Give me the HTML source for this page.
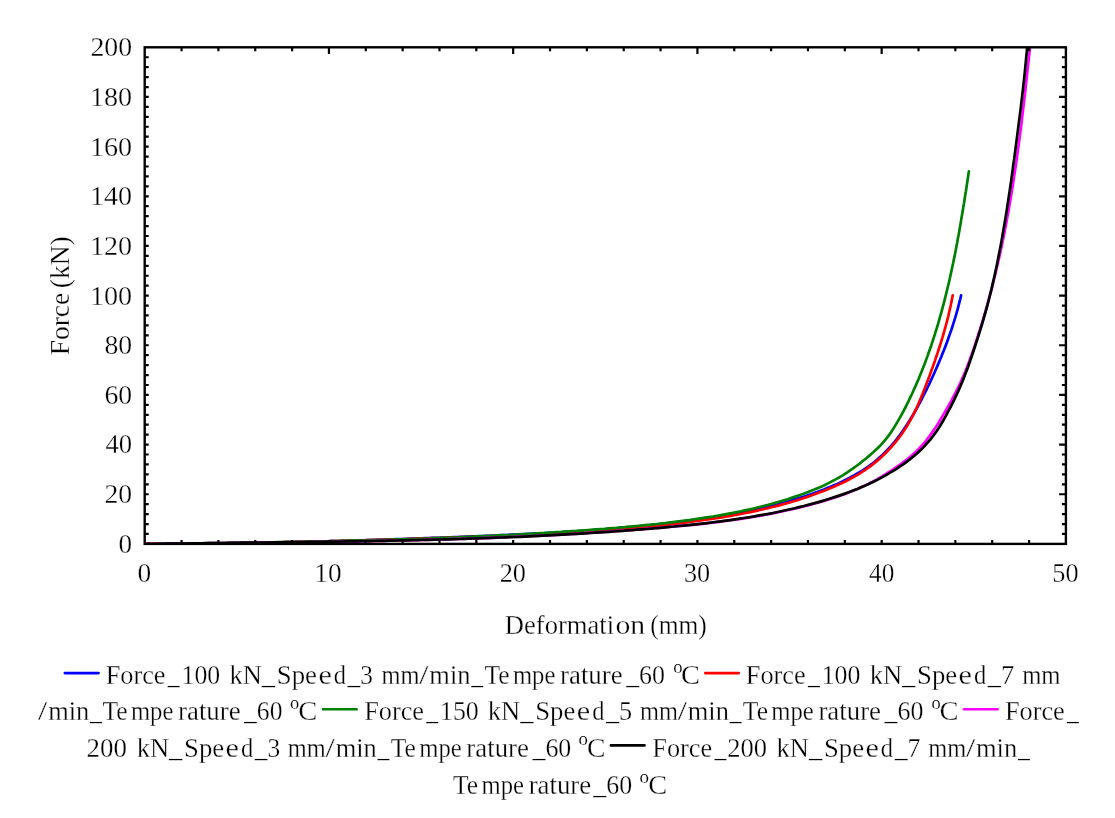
<!DOCTYPE html>
<html lang="en">
<head>
<meta charset="utf-8">
<title>Force - deformation curves</title>
<style>
html,body{margin:0;padding:0;background:#fff;overflow:hidden;}
svg{display:block;will-change:transform;}
text{font-family:"Liberation Serif", "DejaVu Serif", serif;fill:#000;stroke:#fff;stroke-width:0.28px;}
</style>
</head>
<body>
<svg width="1115" height="818" viewBox="0 0 1115 818" role="img" aria-label="Force versus deformation curves">
<rect x="0" y="0" width="1115" height="818" fill="#fff"/>
<defs><clipPath id="plotclip"><rect x="144.7" y="47.3" width="921.20" height="496.60"/></clipPath></defs>
<g clip-path="url(#plotclip)" fill="none" stroke-linejoin="round" stroke-linecap="round" stroke-width="2.7">
<path d="M144.7 543.8L148.3 543.8L151.9 543.8L155.5 543.8L159.1 543.8L162.7 543.8L166.3 543.8L169.9 543.8L173.5 543.8L177.1 543.7L180.7 543.7L184.3 543.7L187.9 543.7L191.5 543.7L195.1 543.6L198.7 543.6L202.3 543.6L205.9 543.5L209.5 543.5L213.1 543.5L216.7 543.4L220.3 543.4L223.9 543.3L227.5 543.3L231.1 543.2L234.7 543.2L238.3 543.1L241.9 543.1L245.5 543.0L249.1 543.0L252.7 542.9L256.3 542.9L259.9 542.8L263.5 542.7L267.1 542.7L270.7 542.6L274.3 542.5L277.9 542.5L281.5 542.4L285.0 542.3L288.6 542.2L292.2 542.2L295.8 542.1L299.4 542.0L303.0 541.9L306.6 541.8L310.2 541.7L313.8 541.6L317.4 541.6L321.0 541.5L324.6 541.4L328.2 541.3L331.8 541.2L335.4 541.1L339.0 541.0L342.6 540.9L346.2 540.8L349.8 540.7L353.4 540.6L357.0 540.5L360.6 540.4L364.2 540.3L367.8 540.1L371.4 540.0L375.0 539.9L378.6 539.8L382.1 539.7L385.7 539.6L389.3 539.5L392.9 539.3L396.5 539.2L400.1 539.1L403.7 539.0L407.3 538.8L410.9 538.7L414.5 538.6L418.1 538.5L421.7 538.3L425.3 538.2L428.9 538.1L432.5 537.9L436.1 537.8L439.7 537.7L443.3 537.5L446.9 537.4L450.5 537.3L454.1 537.1L457.7 537.0L461.3 536.8L464.9 536.7L468.5 536.5L472.1 536.4L475.7 536.3L479.3 536.1L482.9 536.0L486.5 535.8L490.1 535.7L493.6 535.5L497.2 535.4L500.8 535.2L504.4 535.0L508.0 534.9L511.6 534.7L515.2 534.6L518.8 534.4L522.4 534.2L526.0 534.1L529.6 533.9L533.2 533.7L536.8 533.5L540.4 533.3L544.0 533.2L547.6 533.0L551.2 532.8L554.8 532.6L558.4 532.4L562.0 532.2L565.6 531.9L569.2 531.7L572.8 531.5L576.4 531.3L579.9 531.0L583.5 530.8L587.1 530.6L590.7 530.3L594.3 530.1L597.9 529.8L601.5 529.5L605.1 529.3L608.7 529.0L612.2 528.7L615.8 528.4L619.4 528.1L623.0 527.8L626.6 527.5L630.2 527.2L633.7 526.8L637.3 526.5L640.9 526.1L644.5 525.8L648.1 525.4L651.6 525.1L655.2 524.7L658.8 524.3L662.4 523.9L665.9 523.5L669.5 523.1L673.1 522.7L676.7 522.2L680.2 521.8L683.8 521.3L687.4 520.9L690.9 520.4L694.5 519.9L698.1 519.4L701.6 518.9L705.2 518.4L708.7 517.9L712.3 517.3L715.8 516.8L719.4 516.2L722.9 515.6L726.5 515.0L730.0 514.4L733.6 513.8L737.1 513.2L740.7 512.5L744.2 511.8L747.7 511.1L751.2 510.4L754.8 509.6L758.3 508.9L761.8 508.1L765.3 507.3L768.8 506.5L772.3 505.6L775.8 504.7L779.2 503.8L782.7 502.9L786.2 501.9L789.6 501.0L793.1 499.9L796.6 498.9L800.0 497.8L803.4 496.7L806.9 495.6L810.3 494.4L813.7 493.2L817.1 492.0L820.5 490.7L823.9 489.5L827.2 488.1L830.6 486.7L833.9 485.3L837.3 483.9L840.5 482.4L843.8 480.8L847.0 479.2L850.2 477.5L853.4 475.8L856.5 474.0L859.6 472.2L862.7 470.3L865.6 468.3L868.6 466.3L871.5 464.2L874.3 462.0L877.0 459.7L879.7 457.4L882.4 455.0L884.9 452.5L887.4 449.9L889.9 447.3L892.2 444.6L894.6 441.8L896.8 439.0L899.0 436.2L901.1 433.3L903.2 430.3L905.2 427.3L907.2 424.3L909.1 421.3L911.0 418.2L912.9 415.1L914.7 412.0L916.5 408.9L918.2 405.7L919.9 402.6L921.6 399.4L923.2 396.2L924.8 393.0L926.4 389.8L928.0 386.5L929.6 383.3L931.1 380.0L932.6 376.8L934.1 373.5L935.5 370.2L937.0 366.9L938.4 363.6L939.8 360.3L941.2 357.0L942.5 353.6L943.9 350.3L945.2 346.9L946.5 343.6L947.7 340.2L948.9 336.8L950.1 333.4L951.3 330.0L952.4 326.6L953.5 323.2L954.6 319.7L955.6 316.3L956.6 312.8L957.6 309.4L958.5 305.9L959.4 302.4L960.3 298.9L961.1 295.4" stroke="#0000ff"/>
<path d="M144.7 543.9L148.3 543.9L151.9 543.9L155.5 543.8L159.1 543.8L162.7 543.8L166.3 543.8L169.8 543.8L173.4 543.8L177.0 543.7L180.6 543.7L184.2 543.7L187.8 543.7L191.4 543.6L195.0 543.6L198.6 543.6L202.2 543.5L205.8 543.5L209.4 543.4L213.0 543.4L216.5 543.4L220.1 543.3L223.7 543.3L227.3 543.2L230.9 543.2L234.5 543.1L238.1 543.1L241.7 543.0L245.3 543.0L248.9 542.9L252.5 542.8L256.1 542.8L259.6 542.7L263.2 542.7L266.8 542.6L270.4 542.5L274.0 542.5L277.6 542.4L281.2 542.3L284.8 542.2L288.4 542.2L292.0 542.1L295.6 542.0L299.1 541.9L302.7 541.9L306.3 541.8L309.9 541.7L313.5 541.6L317.1 541.5L320.7 541.4L324.3 541.4L327.9 541.3L331.5 541.2L335.1 541.1L338.6 541.0L342.2 540.9L345.8 540.8L349.4 540.7L353.0 540.6L356.6 540.5L360.2 540.4L363.8 540.3L367.4 540.2L371.0 540.1L374.6 540.0L378.1 539.9L381.7 539.8L385.3 539.7L388.9 539.6L392.5 539.5L396.1 539.4L399.7 539.3L403.3 539.1L406.9 539.0L410.5 538.9L414.0 538.8L417.6 538.7L421.2 538.6L424.8 538.5L428.4 538.3L432.0 538.2L435.6 538.1L439.2 538.0L442.8 537.9L446.4 537.7L450.0 537.6L453.5 537.5L457.1 537.4L460.7 537.2L464.3 537.1L467.9 537.0L471.5 536.9L475.1 536.7L478.7 536.6L482.3 536.5L485.9 536.3L489.4 536.2L493.0 536.1L496.6 535.9L500.2 535.8L503.8 535.7L507.4 535.5L511.0 535.4L514.6 535.3L518.2 535.1L521.8 535.0L525.4 534.8L528.9 534.7L532.5 534.5L536.1 534.4L539.7 534.2L543.3 534.0L546.9 533.9L550.5 533.7L554.1 533.5L557.7 533.3L561.2 533.1L564.8 532.9L568.4 532.8L572.0 532.6L575.6 532.3L579.2 532.1L582.8 531.9L586.3 531.7L589.9 531.5L593.5 531.2L597.1 531.0L600.7 530.7L604.3 530.5L607.8 530.2L611.4 530.0L615.0 529.7L618.6 529.4L622.1 529.1L625.7 528.8L629.3 528.5L632.9 528.2L636.5 527.9L640.0 527.6L643.6 527.2L647.2 526.9L650.8 526.5L654.3 526.2L657.9 525.8L661.5 525.4L665.0 525.0L668.6 524.6L672.2 524.2L675.7 523.8L679.3 523.4L682.9 522.9L686.4 522.5L690.0 522.0L693.6 521.5L697.1 521.0L700.7 520.5L704.2 520.0L707.8 519.5L711.4 519.0L714.9 518.4L718.5 517.9L722.0 517.3L725.6 516.7L729.1 516.1L732.7 515.5L736.2 514.8L739.7 514.2L743.3 513.5L746.8 512.8L750.3 512.1L753.8 511.4L757.3 510.6L760.8 509.8L764.3 509.0L767.8 508.2L771.3 507.3L774.8 506.5L778.3 505.6L781.8 504.6L785.2 503.7L788.7 502.7L792.1 501.7L795.6 500.7L799.0 499.6L802.4 498.5L805.8 497.4L809.2 496.2L812.6 495.0L816.0 493.8L819.4 492.6L822.7 491.3L826.1 490.0L829.4 488.6L832.7 487.2L836.0 485.8L839.3 484.3L842.6 482.7L845.8 481.2L849.0 479.5L852.1 477.8L855.3 476.1L858.3 474.3L861.4 472.4L864.4 470.4L867.3 468.4L870.2 466.3L873.0 464.2L875.8 461.9L878.6 459.6L881.2 457.2L883.8 454.7L886.4 452.2L888.9 449.6L891.3 447.0L893.7 444.2L896.0 441.5L898.2 438.7L900.4 435.8L902.4 432.9L904.4 430.0L906.4 427.0L908.2 423.9L910.0 420.8L911.7 417.7L913.4 414.5L914.9 411.3L916.5 408.1L918.0 404.8L919.4 401.5L920.8 398.2L922.2 394.9L923.5 391.5L924.8 388.2L926.1 384.8L927.4 381.4L928.7 378.1L929.9 374.7L931.1 371.3L932.4 367.9L933.6 364.5L934.8 361.1L935.9 357.7L937.1 354.3L938.2 350.9L939.3 347.5L940.4 344.1L941.5 340.7L942.5 337.3L943.5 333.8L944.5 330.4L945.5 326.9L946.4 323.5L947.3 320.0L948.2 316.5L949.0 313.0L949.8 309.5L950.6 306.0L951.3 302.5L952.0 299.0L952.7 295.4" stroke="#ff0000"/>
<path d="M144.7 544.1L148.8 544.0L152.8 544.0L156.8 543.9L160.9 543.8L164.9 543.8L168.9 543.7L173.0 543.7L177.0 543.6L181.0 543.6L185.1 543.5L189.1 543.5L193.1 543.4L197.2 543.4L201.2 543.3L205.3 543.3L209.3 543.2L213.3 543.1L217.4 543.1L221.4 543.0L225.4 543.0L229.5 542.9L233.5 542.9L237.6 542.8L241.6 542.7L245.6 542.7L249.7 542.6L253.7 542.6L257.7 542.5L261.8 542.4L265.8 542.4L269.9 542.3L273.9 542.3L277.9 542.2L282.0 542.1L286.0 542.1L290.0 542.0L294.1 541.9L298.1 541.8L302.2 541.8L306.2 541.7L310.2 541.6L314.3 541.5L318.3 541.5L322.3 541.4L326.4 541.3L330.4 541.2L334.5 541.1L338.5 541.0L342.5 540.9L346.6 540.8L350.6 540.7L354.7 540.7L358.7 540.6L362.7 540.5L366.8 540.4L370.8 540.2L374.8 540.1L378.9 540.0L382.9 539.9L387.0 539.8L391.0 539.7L395.0 539.6L399.1 539.4L403.1 539.3L407.1 539.2L411.2 539.1L415.2 538.9L419.2 538.8L423.3 538.7L427.3 538.5L431.4 538.4L435.4 538.2L439.4 538.1L443.5 537.9L447.5 537.8L451.5 537.6L455.6 537.5L459.6 537.3L463.6 537.1L467.7 536.9L471.7 536.8L475.7 536.6L479.8 536.4L483.8 536.2L487.8 536.0L491.9 535.8L495.9 535.6L499.9 535.4L504.0 535.2L508.0 535.0L512.0 534.8L516.1 534.6L520.1 534.4L524.1 534.2L528.2 533.9L532.2 533.7L536.2 533.5L540.2 533.2L544.3 533.0L548.3 532.7L552.3 532.5L556.4 532.2L560.4 532.0L564.4 531.7L568.5 531.4L572.5 531.1L576.5 530.9L580.5 530.6L584.6 530.3L588.6 530.0L592.6 529.7L596.6 529.4L600.7 529.1L604.7 528.8L608.7 528.4L612.7 528.1L616.8 527.8L620.8 527.4L624.8 527.1L628.8 526.7L632.8 526.4L636.9 526.0L640.9 525.6L644.9 525.2L648.9 524.8L652.9 524.4L657.0 524.0L661.0 523.5L665.0 523.1L669.0 522.6L673.0 522.1L677.0 521.6L681.0 521.1L685.0 520.6L689.0 520.1L693.0 519.5L697.0 518.9L701.0 518.3L705.0 517.7L709.0 517.1L713.0 516.5L717.0 515.8L720.9 515.1L724.9 514.4L728.9 513.6L732.9 512.9L736.8 512.1L740.8 511.3L744.7 510.4L748.7 509.6L752.6 508.7L756.5 507.8L760.5 506.8L764.4 505.8L768.3 504.8L772.2 503.7L776.1 502.6L780.0 501.5L783.8 500.4L787.7 499.2L791.5 497.9L795.4 496.6L799.2 495.3L803.0 494.0L806.8 492.6L810.6 491.1L814.3 489.6L818.0 488.0L821.7 486.4L825.4 484.7L829.0 482.9L832.6 481.0L836.1 479.1L839.6 477.2L843.1 475.1L846.5 472.9L849.8 470.7L853.1 468.4L856.4 466.0L859.6 463.6L862.8 461.0L866.0 458.5L869.1 455.9L872.1 453.3L875.1 450.6L878.1 447.8L880.9 444.9L883.6 441.9L886.1 438.9L888.6 435.7L890.9 432.4L893.1 429.1L895.2 425.6L897.3 422.2L899.3 418.7L901.3 415.1L903.2 411.6L905.1 408.0L906.9 404.4L908.7 400.8L910.4 397.1L912.2 393.5L913.8 389.8L915.5 386.1L917.1 382.4L918.7 378.7L920.2 374.9L921.7 371.2L923.2 367.4L924.7 363.7L926.1 359.9L927.5 356.1L928.8 352.3L930.2 348.5L931.5 344.7L932.7 340.9L934.0 337.0L935.2 333.2L936.4 329.3L937.6 325.5L938.7 321.6L939.8 317.7L940.9 313.8L942.0 309.9L943.0 306.1L944.1 302.1L945.1 298.2L946.0 294.3L947.0 290.4L947.9 286.5L948.9 282.5L949.8 278.6L950.6 274.7L951.5 270.7L952.3 266.8L953.2 262.8L954.0 258.8L954.8 254.9L955.6 250.9L956.3 246.9L957.1 243.0L957.8 239.0L958.6 235.0L959.3 231.0L960.0 227.1L960.7 223.1L961.3 219.1L962.0 215.1L962.7 211.1L963.3 207.1L964.0 203.2L964.6 199.2L965.2 195.2L965.9 191.2L966.5 187.2L967.1 183.2L967.7 179.2L968.3 175.3L968.9 171.3" stroke="#008000"/>
<path d="M144.7 544.1L149.4 544.0L154.1 544.0L158.8 543.9L163.4 543.8L168.1 543.8L172.8 543.7L177.5 543.6L182.2 543.6L186.9 543.5L191.6 543.5L196.3 543.4L200.9 543.3L205.6 543.3L210.3 543.2L215.0 543.2L219.7 543.1L224.4 543.1L229.1 543.0L233.7 543.0L238.4 542.9L243.1 542.9L247.8 542.8L252.5 542.7L257.2 542.7L261.9 542.6L266.6 542.6L271.2 542.5L275.9 542.5L280.6 542.4L285.3 542.4L290.0 542.3L294.7 542.2L299.4 542.2L304.0 542.1L308.7 542.1L313.4 542.0L318.1 541.9L322.8 541.9L327.5 541.8L332.2 541.7L336.8 541.6L341.5 541.6L346.2 541.5L350.9 541.4L355.6 541.3L360.3 541.3L364.9 541.2L369.6 541.1L374.3 541.0L379.0 540.9L383.7 540.8L388.4 540.7L393.1 540.6L397.7 540.5L402.4 540.4L407.1 540.3L411.8 540.2L416.5 540.1L421.2 540.0L425.8 539.8L430.5 539.7L435.2 539.6L439.9 539.5L444.6 539.3L449.3 539.2L453.9 539.1L458.6 538.9L463.3 538.8L468.0 538.6L472.7 538.4L477.3 538.3L482.0 538.1L486.7 537.9L491.4 537.8L496.1 537.6L500.8 537.4L505.4 537.2L510.1 537.0L514.8 536.8L519.5 536.6L524.2 536.4L528.8 536.2L533.5 536.0L538.2 535.8L542.9 535.5L547.6 535.3L552.2 535.1L556.9 534.8L561.6 534.6L566.3 534.3L571.0 534.0L575.6 533.8L580.3 533.5L585.0 533.2L589.7 532.9L594.4 532.6L599.0 532.3L603.7 532.0L608.4 531.7L613.1 531.4L617.7 531.0L622.4 530.7L627.1 530.4L631.8 530.0L636.5 529.7L641.1 529.3L645.8 528.9L650.5 528.6L655.2 528.2L659.8 527.8L664.5 527.4L669.2 527.0L673.9 526.5L678.5 526.1L683.2 525.7L687.9 525.2L692.6 524.8L697.2 524.3L701.9 523.8L706.5 523.3L711.2 522.7L715.9 522.2L720.5 521.6L725.2 521.0L729.8 520.4L734.4 519.7L739.1 519.1L743.7 518.4L748.3 517.7L753.0 516.9L757.6 516.1L762.2 515.3L766.8 514.5L771.4 513.6L776.0 512.7L780.6 511.8L785.1 510.8L789.7 509.8L794.3 508.8L798.8 507.7L803.3 506.5L807.9 505.4L812.4 504.2L816.9 502.9L821.4 501.6L825.9 500.3L830.4 498.9L834.9 497.5L839.3 495.9L843.7 494.4L848.1 492.7L852.5 491.0L856.8 489.2L861.1 487.3L865.4 485.4L869.6 483.3L873.7 481.1L877.8 478.9L881.9 476.5L885.9 474.0L889.9 471.5L893.8 468.9L897.7 466.2L901.5 463.5L905.3 460.7L909.0 457.7L912.6 454.7L916.0 451.6L919.3 448.3L922.5 444.9L925.5 441.3L928.4 437.7L931.1 433.9L933.8 430.1L936.4 426.2L938.9 422.2L941.3 418.2L943.7 414.1L946.1 410.0L948.4 405.9L950.7 401.8L952.9 397.7L955.1 393.5L957.2 389.4L959.3 385.2L961.2 380.9L963.1 376.6L965.0 372.3L966.7 368.0L968.4 363.6L970.0 359.2L971.6 354.8L973.1 350.4L974.7 345.9L976.1 341.5L977.6 337.0L979.0 332.6L980.4 328.1L981.8 323.6L983.2 319.2L984.5 314.7L985.8 310.2L987.1 305.7L988.3 301.1L989.6 296.6L990.8 292.1L992.0 287.6L993.1 283.0L994.2 278.5L995.4 273.9L996.4 269.4L997.5 264.8L998.6 260.2L999.6 255.6L1000.6 251.1L1001.6 246.5L1002.5 241.9L1003.5 237.3L1004.4 232.7L1005.3 228.1L1006.2 223.5L1007.0 218.9L1007.9 214.3L1008.7 209.7L1009.5 205.1L1010.3 200.5L1011.1 195.8L1011.8 191.2L1012.6 186.6L1013.3 182.0L1014.0 177.3L1014.7 172.7L1015.4 168.1L1016.1 163.4L1016.8 158.8L1017.4 154.1L1018.0 149.5L1018.7 144.9L1019.3 140.2L1019.9 135.6L1020.5 130.9L1021.1 126.3L1021.7 121.6L1022.2 117.0L1022.8 112.3L1023.3 107.7L1023.9 103.0L1024.4 98.3L1025.0 93.7L1025.5 89.0L1026.0 84.4L1026.5 79.7L1027.0 75.1L1027.5 70.4L1028.0 65.7L1028.5 61.1L1029.0 56.4L1029.5 51.8L1030.0 47.1" stroke="#ff00ff"/>
<path d="M144.7 544.1L149.4 544.1L154.1 544.0L158.8 543.9L163.5 543.8L168.1 543.7L172.8 543.7L177.5 543.6L182.2 543.5L186.9 543.5L191.6 543.4L196.3 543.3L201.0 543.3L205.7 543.2L210.4 543.1L215.0 543.1L219.7 543.0L224.4 543.0L229.1 542.9L233.8 542.8L238.5 542.8L243.2 542.7L247.9 542.7L252.6 542.6L257.3 542.6L261.9 542.5L266.6 542.5L271.3 542.4L276.0 542.3L280.7 542.3L285.4 542.2L290.1 542.2L294.8 542.1L299.5 542.1L304.2 542.0L308.8 541.9L313.5 541.9L318.2 541.8L322.9 541.8L327.6 541.7L332.3 541.6L337.0 541.6L341.7 541.5L346.4 541.4L351.0 541.4L355.7 541.3L360.4 541.2L365.1 541.1L369.8 541.1L374.5 541.0L379.2 540.9L383.9 540.8L388.6 540.7L393.2 540.6L397.9 540.5L402.6 540.4L407.3 540.3L412.0 540.2L416.7 540.1L421.4 540.0L426.1 539.9L430.7 539.8L435.4 539.6L440.1 539.5L444.8 539.4L449.5 539.3L454.2 539.1L458.9 539.0L463.6 538.8L468.2 538.7L472.9 538.5L477.6 538.4L482.3 538.2L487.0 538.1L491.7 537.9L496.4 537.7L501.0 537.5L505.7 537.3L510.4 537.2L515.1 537.0L519.8 536.8L524.5 536.6L529.2 536.3L533.8 536.1L538.5 535.9L543.2 535.7L547.9 535.4L552.6 535.2L557.3 534.9L561.9 534.7L566.6 534.4L571.3 534.2L576.0 533.9L580.7 533.6L585.3 533.3L590.0 533.0L594.7 532.7L599.4 532.4L604.1 532.1L608.8 531.8L613.4 531.5L618.1 531.1L622.8 530.8L627.5 530.4L632.1 530.1L636.8 529.7L641.5 529.3L646.2 529.0L650.9 528.6L655.5 528.2L660.2 527.8L664.9 527.3L669.6 526.9L674.3 526.5L678.9 526.0L683.6 525.6L688.3 525.1L692.9 524.6L697.6 524.1L702.3 523.6L706.9 523.1L711.6 522.5L716.3 521.9L720.9 521.3L725.6 520.7L730.2 520.1L734.8 519.4L739.5 518.7L744.1 518.0L748.7 517.3L753.4 516.5L758.0 515.7L762.6 514.9L767.2 514.1L771.8 513.2L776.4 512.3L781.0 511.3L785.5 510.3L790.1 509.3L794.7 508.2L799.2 507.1L803.8 506.0L808.3 504.8L812.8 503.6L817.4 502.4L821.9 501.1L826.4 499.7L830.9 498.3L835.3 496.9L839.8 495.4L844.2 493.9L848.6 492.3L853.0 490.6L857.4 488.9L861.7 487.0L866.0 485.2L870.3 483.2L874.5 481.2L878.7 479.1L882.8 476.9L886.9 474.6L891.0 472.2L895.0 469.8L898.9 467.2L902.8 464.6L906.6 461.8L910.4 458.9L914.0 456.0L917.5 452.9L921.0 449.7L924.3 446.4L927.4 442.9L930.5 439.4L933.3 435.7L936.1 431.9L938.7 428.0L941.2 424.0L943.6 420.0L945.9 415.9L948.1 411.7L950.3 407.6L952.4 403.4L954.5 399.1L956.5 394.9L958.5 390.6L960.4 386.3L962.2 382.0L963.9 377.7L965.6 373.3L967.3 368.9L968.9 364.5L970.4 360.1L971.9 355.7L973.4 351.2L974.9 346.8L976.3 342.3L977.8 337.9L979.2 333.4L980.6 328.9L982.0 324.4L983.3 319.9L984.6 315.4L985.9 310.9L987.1 306.4L988.3 301.8L989.4 297.3L990.6 292.7L991.7 288.2L992.7 283.6L993.8 279.0L994.8 274.5L995.8 269.9L996.8 265.3L997.7 260.7L998.6 256.1L999.5 251.5L1000.4 246.9L1001.3 242.3L1002.1 237.7L1002.9 233.0L1003.7 228.4L1004.5 223.8L1005.3 219.2L1006.0 214.6L1006.8 209.9L1007.5 205.3L1008.2 200.7L1008.9 196.0L1009.6 191.4L1010.3 186.7L1011.0 182.1L1011.6 177.5L1012.3 172.8L1012.9 168.2L1013.5 163.5L1014.2 158.9L1014.8 154.2L1015.4 149.6L1016.0 144.9L1016.6 140.3L1017.2 135.6L1017.8 131.0L1018.4 126.3L1019.0 121.7L1019.6 117.0L1020.2 112.4L1020.8 107.7L1021.3 103.1L1021.9 98.4L1022.4 93.8L1023.0 89.1L1023.5 84.4L1024.0 79.8L1024.5 75.1L1025.0 70.5L1025.4 65.8L1025.9 61.1L1026.3 56.4L1026.8 51.8L1027.2 47.1" stroke="#000000"/>
</g>
<path d="M181.55 543.9V539.90M181.55 47.3V51.30M218.40 543.9V539.90M218.40 47.3V51.30M255.24 543.9V539.90M255.24 47.3V51.30M292.09 543.9V539.90M292.09 47.3V51.30M328.94 543.9V539.90M328.94 47.3V54.10M365.79 543.9V539.90M365.79 47.3V51.30M402.64 543.9V539.90M402.64 47.3V51.30M439.48 543.9V539.90M439.48 47.3V51.30M476.33 543.9V539.90M476.33 47.3V51.30M513.18 543.9V539.90M513.18 47.3V54.10M550.03 543.9V539.90M550.03 47.3V51.30M586.88 543.9V539.90M586.88 47.3V51.30M623.72 543.9V539.90M623.72 47.3V51.30M660.57 543.9V539.90M660.57 47.3V51.30M697.42 543.9V539.90M697.42 47.3V54.10M734.27 543.9V539.90M734.27 47.3V51.30M771.12 543.9V539.90M771.12 47.3V51.30M807.96 543.9V539.90M807.96 47.3V51.30M844.81 543.9V539.90M844.81 47.3V51.30M881.66 543.9V539.90M881.66 47.3V54.10M918.51 543.9V539.90M918.51 47.3V51.30M955.36 543.9V539.90M955.36 47.3V51.30M992.20 543.9V539.90M992.20 47.3V51.30M1029.05 543.9V539.90M1029.05 47.3V51.30M144.7 533.97H148.70M1065.9 533.97H1061.90M144.7 524.04H148.70M1065.9 524.04H1061.90M144.7 514.10H148.70M1065.9 514.10H1061.90M144.7 504.17H148.70M1065.9 504.17H1061.90M144.7 494.24H148.70M1065.9 494.24H1059.10M144.7 484.31H148.70M1065.9 484.31H1061.90M144.7 474.38H148.70M1065.9 474.38H1061.90M144.7 464.44H148.70M1065.9 464.44H1061.90M144.7 454.51H148.70M1065.9 454.51H1061.90M144.7 444.58H148.70M1065.9 444.58H1059.10M144.7 434.65H148.70M1065.9 434.65H1061.90M144.7 424.72H148.70M1065.9 424.72H1061.90M144.7 414.78H148.70M1065.9 414.78H1061.90M144.7 404.85H148.70M1065.9 404.85H1061.90M144.7 394.92H148.70M1065.9 394.92H1059.10M144.7 384.99H148.70M1065.9 384.99H1061.90M144.7 375.06H148.70M1065.9 375.06H1061.90M144.7 365.12H148.70M1065.9 365.12H1061.90M144.7 355.19H148.70M1065.9 355.19H1061.90M144.7 345.26H148.70M1065.9 345.26H1059.10M144.7 335.33H148.70M1065.9 335.33H1061.90M144.7 325.40H148.70M1065.9 325.40H1061.90M144.7 315.46H148.70M1065.9 315.46H1061.90M144.7 305.53H148.70M1065.9 305.53H1061.90M144.7 295.60H148.70M1065.9 295.60H1059.10M144.7 285.67H148.70M1065.9 285.67H1061.90M144.7 275.74H148.70M1065.9 275.74H1061.90M144.7 265.80H148.70M1065.9 265.80H1061.90M144.7 255.87H148.70M1065.9 255.87H1061.90M144.7 245.94H148.70M1065.9 245.94H1059.10M144.7 236.01H148.70M1065.9 236.01H1061.90M144.7 226.08H148.70M1065.9 226.08H1061.90M144.7 216.14H148.70M1065.9 216.14H1061.90M144.7 206.21H148.70M1065.9 206.21H1061.90M144.7 196.28H148.70M1065.9 196.28H1059.10M144.7 186.35H148.70M1065.9 186.35H1061.90M144.7 176.42H148.70M1065.9 176.42H1061.90M144.7 166.48H148.70M1065.9 166.48H1061.90M144.7 156.55H148.70M1065.9 156.55H1061.90M144.7 146.62H148.70M1065.9 146.62H1059.10M144.7 136.69H148.70M1065.9 136.69H1061.90M144.7 126.76H148.70M1065.9 126.76H1061.90M144.7 116.82H148.70M1065.9 116.82H1061.90M144.7 106.89H148.70M1065.9 106.89H1061.90M144.7 96.96H148.70M1065.9 96.96H1059.10M144.7 87.03H148.70M1065.9 87.03H1061.90M144.7 77.10H148.70M1065.9 77.10H1061.90M144.7 67.16H148.70M1065.9 67.16H1061.90M144.7 57.23H148.70M1065.9 57.23H1061.90" fill="none" stroke="#000" stroke-width="2.2" stroke-linecap="butt"/>
<rect x="144.7" y="47.3" width="921.20" height="496.60" fill="none" stroke="#000" stroke-width="2.4" stroke-linejoin="miter"/>
<line x1="64.80" y1="673.10" x2="98.60" y2="673.10" stroke="#0000ff" stroke-width="2.6" stroke-linecap="round"/>
<line x1="705.30" y1="673.10" x2="738.80" y2="673.10" stroke="#ff0000" stroke-width="2.6" stroke-linecap="round"/>
<line x1="323.10" y1="709.20" x2="356.60" y2="709.20" stroke="#008000" stroke-width="2.6" stroke-linecap="round"/>
<line x1="964.00" y1="709.20" x2="997.60" y2="709.20" stroke="#ff00ff" stroke-width="2.6" stroke-linecap="round"/>
<line x1="610.90" y1="745.40" x2="644.50" y2="745.40" stroke="#000000" stroke-width="2.6" stroke-linecap="round"/>
<g style="filter:grayscale(1)">
<text><tspan x="105.70" y="684.10" font-size="26.5" textLength="59.86" lengthAdjust="spacingAndGlyphs">Force</tspan><tspan x="167.79" y="684.10" font-size="26.5" textLength="11.84" lengthAdjust="spacingAndGlyphs">_</tspan><tspan x="181.55" y="684.10" font-size="26.5" textLength="38.69" lengthAdjust="spacingAndGlyphs">100</tspan><tspan> </tspan><tspan x="229.45" y="684.10" font-size="26.5" textLength="45.65" lengthAdjust="spacingAndGlyphs">kN_</tspan><tspan x="276.84" y="684.10" font-size="26.5" textLength="40.08" lengthAdjust="spacingAndGlyphs">Spe</tspan><tspan x="318.41" y="684.10" font-size="26.5" textLength="13.41" lengthAdjust="spacingAndGlyphs">e</tspan><tspan x="333.75" y="684.10" font-size="26.5" textLength="12.23" lengthAdjust="spacingAndGlyphs">d</tspan><tspan x="347.51" y="684.10" font-size="26.5" textLength="25.38" lengthAdjust="spacingAndGlyphs">_3</tspan><tspan> </tspan><tspan x="381.55" y="684.10" font-size="26.5" textLength="37.94" lengthAdjust="spacingAndGlyphs">mm</tspan><tspan x="419.25" y="684.10" font-size="26.5" textLength="9.20" lengthAdjust="spacingAndGlyphs">/</tspan><tspan x="429.35" y="684.10" font-size="26.5" textLength="41.15" lengthAdjust="spacingAndGlyphs">min</tspan><tspan x="471.24" y="684.10" font-size="26.5" textLength="11.84" lengthAdjust="spacingAndGlyphs">_</tspan><tspan x="484.45" y="684.10" font-size="26.5" textLength="25.13" lengthAdjust="spacingAndGlyphs">Te</tspan><tspan x="512.95" y="684.10" font-size="26.5" textLength="42.41" lengthAdjust="spacingAndGlyphs">mpe</tspan><tspan x="560.05" y="684.10" font-size="26.5" textLength="62.57" lengthAdjust="spacingAndGlyphs">rature</tspan><tspan x="626.13" y="684.10" font-size="26.5" textLength="38.87" lengthAdjust="spacingAndGlyphs">_60</tspan><tspan> </tspan><tspan x="673.15" y="672.80" font-size="18.2" style="stroke-width:0.12px" textLength="9.30" lengthAdjust="spacingAndGlyphs">o</tspan><tspan x="681.08" y="684.10" font-size="26.5" textLength="18.89" lengthAdjust="spacingAndGlyphs">C</tspan><tspan> </tspan><tspan x="745.85" y="684.10" font-size="26.5" textLength="59.86" lengthAdjust="spacingAndGlyphs">Force</tspan><tspan x="807.94" y="684.10" font-size="26.5" textLength="11.84" lengthAdjust="spacingAndGlyphs">_</tspan><tspan x="821.70" y="684.10" font-size="26.5" textLength="38.69" lengthAdjust="spacingAndGlyphs">100</tspan><tspan> </tspan><tspan x="869.65" y="684.10" font-size="26.5" textLength="45.65" lengthAdjust="spacingAndGlyphs">kN_</tspan><tspan x="917.04" y="684.10" font-size="26.5" textLength="40.08" lengthAdjust="spacingAndGlyphs">Spe</tspan><tspan x="958.61" y="684.10" font-size="26.5" textLength="13.41" lengthAdjust="spacingAndGlyphs">e</tspan><tspan x="973.95" y="684.10" font-size="26.5" textLength="12.23" lengthAdjust="spacingAndGlyphs">d</tspan><tspan x="987.75" y="684.10" font-size="26.5" textLength="26.55" lengthAdjust="spacingAndGlyphs">_7</tspan><tspan> </tspan><tspan x="1022.25" y="684.10" font-size="26.5" textLength="38.24" lengthAdjust="spacingAndGlyphs">mm</tspan></text>
<text><tspan x="38.05" y="720.40" font-size="26.5" textLength="9.20" lengthAdjust="spacingAndGlyphs">/</tspan><tspan x="48.15" y="720.40" font-size="26.5" textLength="41.15" lengthAdjust="spacingAndGlyphs">min</tspan><tspan x="90.04" y="720.40" font-size="26.5" textLength="11.84" lengthAdjust="spacingAndGlyphs">_</tspan><tspan x="102.45" y="720.40" font-size="26.5" textLength="25.13" lengthAdjust="spacingAndGlyphs">Te</tspan><tspan x="130.95" y="720.40" font-size="26.5" textLength="42.41" lengthAdjust="spacingAndGlyphs">mpe</tspan><tspan x="178.05" y="720.40" font-size="26.5" textLength="62.57" lengthAdjust="spacingAndGlyphs">rature</tspan><tspan x="244.11" y="720.40" font-size="26.5" textLength="38.28" lengthAdjust="spacingAndGlyphs">_60</tspan><tspan> </tspan><tspan x="289.95" y="709.10" font-size="18.2" style="stroke-width:0.12px" textLength="9.19" lengthAdjust="spacingAndGlyphs">o</tspan><tspan x="298.38" y="720.40" font-size="26.5" textLength="19.00" lengthAdjust="spacingAndGlyphs">C</tspan><tspan> </tspan><tspan x="364.15" y="720.40" font-size="26.5" textLength="59.86" lengthAdjust="spacingAndGlyphs">Force</tspan><tspan x="426.24" y="720.40" font-size="26.5" textLength="11.84" lengthAdjust="spacingAndGlyphs">_</tspan><tspan x="440.00" y="720.40" font-size="26.5" textLength="38.69" lengthAdjust="spacingAndGlyphs">150</tspan><tspan> </tspan><tspan x="487.85" y="720.40" font-size="26.5" textLength="45.65" lengthAdjust="spacingAndGlyphs">kN_</tspan><tspan x="535.24" y="720.40" font-size="26.5" textLength="40.08" lengthAdjust="spacingAndGlyphs">Spe</tspan><tspan x="576.81" y="720.40" font-size="26.5" textLength="13.41" lengthAdjust="spacingAndGlyphs">e</tspan><tspan x="592.15" y="720.40" font-size="26.5" textLength="12.23" lengthAdjust="spacingAndGlyphs">d</tspan><tspan x="605.94" y="720.40" font-size="26.5" textLength="26.26" lengthAdjust="spacingAndGlyphs">_5</tspan><tspan> </tspan><tspan x="639.95" y="720.40" font-size="26.5" textLength="37.94" lengthAdjust="spacingAndGlyphs">mm</tspan><tspan x="677.65" y="720.40" font-size="26.5" textLength="9.20" lengthAdjust="spacingAndGlyphs">/</tspan><tspan x="687.75" y="720.40" font-size="26.5" textLength="41.15" lengthAdjust="spacingAndGlyphs">min</tspan><tspan x="729.64" y="720.40" font-size="26.5" textLength="11.84" lengthAdjust="spacingAndGlyphs">_</tspan><tspan x="742.85" y="720.40" font-size="26.5" textLength="25.13" lengthAdjust="spacingAndGlyphs">Te</tspan><tspan x="771.35" y="720.40" font-size="26.5" textLength="42.41" lengthAdjust="spacingAndGlyphs">mpe</tspan><tspan x="818.45" y="720.40" font-size="26.5" textLength="62.57" lengthAdjust="spacingAndGlyphs">rature</tspan><tspan x="884.53" y="720.40" font-size="26.5" textLength="38.87" lengthAdjust="spacingAndGlyphs">_60</tspan><tspan> </tspan><tspan x="931.55" y="709.10" font-size="18.2" style="stroke-width:0.12px" textLength="9.19" lengthAdjust="spacingAndGlyphs">o</tspan><tspan x="939.57" y="720.40" font-size="26.5" textLength="19.00" lengthAdjust="spacingAndGlyphs">C</tspan><tspan> </tspan><tspan x="1004.95" y="720.40" font-size="26.5" textLength="59.86" lengthAdjust="spacingAndGlyphs">Force</tspan><tspan x="1067.04" y="720.40" font-size="26.5" textLength="11.84" lengthAdjust="spacingAndGlyphs">_</tspan></text>
<text><tspan x="86.63" y="756.60" font-size="26.5" textLength="40.37" lengthAdjust="spacingAndGlyphs">200</tspan><tspan> </tspan><tspan x="136.65" y="756.60" font-size="26.5" textLength="45.65" lengthAdjust="spacingAndGlyphs">kN_</tspan><tspan x="184.04" y="756.60" font-size="26.5" textLength="40.08" lengthAdjust="spacingAndGlyphs">Spe</tspan><tspan x="225.61" y="756.60" font-size="26.5" textLength="13.41" lengthAdjust="spacingAndGlyphs">e</tspan><tspan x="240.95" y="756.60" font-size="26.5" textLength="12.23" lengthAdjust="spacingAndGlyphs">d</tspan><tspan x="254.71" y="756.60" font-size="26.5" textLength="25.38" lengthAdjust="spacingAndGlyphs">_3</tspan><tspan> </tspan><tspan x="287.85" y="756.60" font-size="26.5" textLength="37.94" lengthAdjust="spacingAndGlyphs">mm</tspan><tspan x="325.55" y="756.60" font-size="26.5" textLength="9.20" lengthAdjust="spacingAndGlyphs">/</tspan><tspan x="335.65" y="756.60" font-size="26.5" textLength="41.15" lengthAdjust="spacingAndGlyphs">min</tspan><tspan x="377.54" y="756.60" font-size="26.5" textLength="11.84" lengthAdjust="spacingAndGlyphs">_</tspan><tspan x="390.75" y="756.60" font-size="26.5" textLength="25.13" lengthAdjust="spacingAndGlyphs">Te</tspan><tspan x="419.25" y="756.60" font-size="26.5" textLength="42.41" lengthAdjust="spacingAndGlyphs">mpe</tspan><tspan x="466.35" y="756.60" font-size="26.5" textLength="62.57" lengthAdjust="spacingAndGlyphs">rature</tspan><tspan x="532.43" y="756.60" font-size="26.5" textLength="38.87" lengthAdjust="spacingAndGlyphs">_60</tspan><tspan> </tspan><tspan x="578.45" y="745.30" font-size="18.2" style="stroke-width:0.12px" textLength="9.40" lengthAdjust="spacingAndGlyphs">o</tspan><tspan x="587.11" y="756.60" font-size="26.5" textLength="18.45" lengthAdjust="spacingAndGlyphs">C</tspan><tspan> </tspan><tspan x="652.35" y="756.60" font-size="26.5" textLength="59.86" lengthAdjust="spacingAndGlyphs">Force</tspan><tspan x="714.44" y="756.60" font-size="26.5" textLength="11.84" lengthAdjust="spacingAndGlyphs">_</tspan><tspan x="727.15" y="756.60" font-size="26.5" textLength="39.75" lengthAdjust="spacingAndGlyphs">200</tspan><tspan> </tspan><tspan x="776.55" y="756.60" font-size="26.5" textLength="45.65" lengthAdjust="spacingAndGlyphs">kN_</tspan><tspan x="823.94" y="756.60" font-size="26.5" textLength="40.08" lengthAdjust="spacingAndGlyphs">Spe</tspan><tspan x="865.51" y="756.60" font-size="26.5" textLength="13.41" lengthAdjust="spacingAndGlyphs">e</tspan><tspan x="880.85" y="756.60" font-size="26.5" textLength="12.23" lengthAdjust="spacingAndGlyphs">d</tspan><tspan x="894.63" y="756.60" font-size="26.5" textLength="25.87" lengthAdjust="spacingAndGlyphs">_7</tspan><tspan> </tspan><tspan x="928.25" y="756.60" font-size="26.5" textLength="37.94" lengthAdjust="spacingAndGlyphs">mm</tspan><tspan x="965.95" y="756.60" font-size="26.5" textLength="9.20" lengthAdjust="spacingAndGlyphs">/</tspan><tspan x="976.05" y="756.60" font-size="26.5" textLength="41.15" lengthAdjust="spacingAndGlyphs">min</tspan><tspan x="1017.94" y="756.60" font-size="26.5" textLength="11.84" lengthAdjust="spacingAndGlyphs">_</tspan></text>
<text><tspan x="453.05" y="793.80" font-size="26.5" textLength="25.13" lengthAdjust="spacingAndGlyphs">Te</tspan><tspan x="481.55" y="793.80" font-size="26.5" textLength="42.41" lengthAdjust="spacingAndGlyphs">mpe</tspan><tspan x="528.65" y="793.80" font-size="26.5" textLength="62.57" lengthAdjust="spacingAndGlyphs">rature</tspan><tspan x="593.33" y="793.80" font-size="26.5" textLength="38.87" lengthAdjust="spacingAndGlyphs">_60</tspan><tspan> </tspan><tspan x="639.45" y="782.50" font-size="18.2" style="stroke-width:0.12px" textLength="9.50" lengthAdjust="spacingAndGlyphs">o</tspan><tspan x="648.18" y="793.80" font-size="26.5" textLength="18.89" lengthAdjust="spacingAndGlyphs">C</tspan></text>
<text><tspan x="504.85" y="634.00" font-size="26.5" textLength="109.26" lengthAdjust="spacingAndGlyphs">Deformati</tspan><tspan x="615.53" y="634.00" font-size="26.5" textLength="29.70" lengthAdjust="spacingAndGlyphs">on</tspan><tspan> </tspan><tspan x="650.19" y="634.00" font-size="26.5" textLength="56.55" lengthAdjust="spacingAndGlyphs">(mm)</tspan></text>
<text><tspan x="118.53" y="552.80" font-size="26.5" textLength="13.58" lengthAdjust="spacingAndGlyphs">0</tspan></text>
<text><tspan x="104.40" y="503.14" font-size="26.5" textLength="27.71" lengthAdjust="spacingAndGlyphs">20</tspan></text>
<text><tspan x="105.45" y="453.48" font-size="26.5" textLength="26.65" lengthAdjust="spacingAndGlyphs">40</tspan></text>
<text><tspan x="104.40" y="403.82" font-size="26.5" textLength="27.71" lengthAdjust="spacingAndGlyphs">60</tspan></text>
<text><tspan x="104.40" y="354.16" font-size="26.5" textLength="27.71" lengthAdjust="spacingAndGlyphs">80</tspan></text>
<text><tspan x="89.93" y="304.50" font-size="26.5" textLength="42.19" lengthAdjust="spacingAndGlyphs">100</tspan></text>
<text><tspan x="89.93" y="254.84" font-size="26.5" textLength="42.19" lengthAdjust="spacingAndGlyphs">120</tspan></text>
<text><tspan x="89.93" y="205.18" font-size="26.5" textLength="42.19" lengthAdjust="spacingAndGlyphs">140</tspan></text>
<text><tspan x="89.93" y="155.52" font-size="26.5" textLength="42.19" lengthAdjust="spacingAndGlyphs">160</tspan></text>
<text><tspan x="89.93" y="105.86" font-size="26.5" textLength="42.19" lengthAdjust="spacingAndGlyphs">180</tspan></text>
<text><tspan x="90.40" y="56.20" font-size="26.5" textLength="41.71" lengthAdjust="spacingAndGlyphs">200</tspan></text>
<text><tspan x="137.42" y="582.20" font-size="26.5" textLength="13.69" lengthAdjust="spacingAndGlyphs">0</tspan></text>
<text><tspan x="314.33" y="582.20" font-size="26.5" textLength="27.32" lengthAdjust="spacingAndGlyphs">10</tspan></text>
<text><tspan x="499.64" y="582.20" font-size="26.5" textLength="26.24" lengthAdjust="spacingAndGlyphs">20</tspan></text>
<text><tspan x="683.88" y="582.20" font-size="26.5" textLength="26.24" lengthAdjust="spacingAndGlyphs">30</tspan></text>
<text><tspan x="869.11" y="582.20" font-size="26.5" textLength="25.24" lengthAdjust="spacingAndGlyphs">40</tspan></text>
<text><tspan x="1052.36" y="582.20" font-size="26.5" textLength="26.24" lengthAdjust="spacingAndGlyphs">50</tspan></text>
<text transform="translate(69.3 355.0) rotate(-90)"><tspan x="-0.35" y="0" font-size="26.5" textLength="62.59" lengthAdjust="spacingAndGlyphs">Force</tspan><tspan> </tspan><tspan x="66.71" y="0" font-size="26.5" textLength="52.10" lengthAdjust="spacingAndGlyphs">(kN)</tspan></text>
</g>
</svg>
</body>
</html>
